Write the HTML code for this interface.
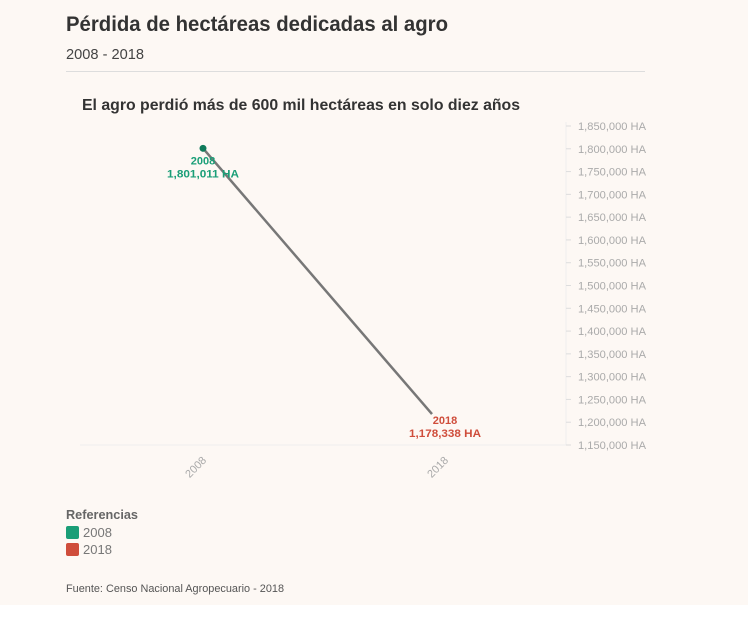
<!DOCTYPE html>
<html><head><meta charset="utf-8"><style>
html,body{margin:0;padding:0;background:#fff;}
svg{display:block;font-family:"Liberation Sans",sans-serif;}
</style></head><body>
<svg width="748" height="621" viewBox="0 0 748 621">
<rect x="0" y="0" width="748" height="605" fill="#fdf8f4"/>
<text x="66" y="31" font-size="21" font-weight="bold" fill="#333" textLength="382" lengthAdjust="spacingAndGlyphs">Pérdida de hectáreas dedicadas al agro</text>
<text x="66" y="59" font-size="15" fill="#444" textLength="78" lengthAdjust="spacingAndGlyphs">2008 - 2018</text>
<line x1="66" y1="71.5" x2="645" y2="71.5" stroke="#ddd" stroke-width="1"/>
<text x="82" y="110" font-size="16" font-weight="bold" fill="#333" textLength="438" lengthAdjust="spacingAndGlyphs">El agro perdió más de 600 mil hectáreas en solo diez años</text>
<g id="plot"></g>
<text x="66" y="519" font-size="13" font-weight="bold" fill="#666" textLength="72" lengthAdjust="spacingAndGlyphs">Referencias</text>
<rect x="66" y="526" width="13" height="13" rx="2" fill="#1a9e77"/>
<text x="83" y="537" font-size="13" fill="#777">2008</text>
<rect x="66" y="543" width="13" height="13" rx="2" fill="#cf4d3b"/>
<text x="83" y="554" font-size="13" fill="#777">2018</text>
<text x="66" y="592" font-size="11" fill="#555" textLength="218" lengthAdjust="spacingAndGlyphs">Fuente: Censo Nacional Agropecuario - 2018</text>
</svg>
<script>
const categories = ["2008", "2018"];
const values = [1801011, 1178338];
const labels = ["1,801,011 HA", "1,178,338 HA"];
const yTicks = [1150000,1200000,1250000,1300000,1350000,1400000,1450000,1500000,1550000,1600000,1650000,1700000,1750000,1800000,1850000];
const colors = ["#1a9e77", "#cf4d3b"];

const NS = "http://www.w3.org/2000/svg";
const g = document.getElementById("plot");
const yMin = 1150000, yMax = 1850000, yTop = 126, yBot = 445;
function y(v){ return yBot - (v - yMin) / (yMax - yMin) * (yBot - yTop); }
function x(i){ return 203 + i * (445 - 203); }
function mk(tag, attrs){ const e = document.createElementNS(NS, tag); for (const k in attrs) e.setAttribute(k, attrs[k]); g.appendChild(e); return e; }
function fmt(v){ return v.toLocaleString("en-US") + " HA"; }

const base = mk("line", {x1: 80, y1: yBot, x2: 566, y2: yBot, stroke: "#eee", "stroke-width": 1});


const rAxis = mk("line", {x1: 566, y1: yTop - 4, x2: 566, y2: yBot, stroke: "#eee", "stroke-width": 1});



yTicks.forEach(t => {
  const tk = mk("line", {x1: 566, y1: y(t), x2: 571, y2: y(t), stroke: "#ddd"});
  
  
  const tx = mk("text", {x: 578, y: y(t) + 4, "font-size": 11, fill: "#aaa", textLength: 68, lengthAdjust: "spacingAndGlyphs"});
  tx.textContent = fmt(t);
  
  
});

categories.forEach((c, i) => {
  const t = mk("text", {x: x(i) + 4, y: yBot + 16, "font-size": 11, fill: "#aaa", "text-anchor": "end", transform: `rotate(-45 ${x(i) + 4} ${yBot + 16})`});
  t.textContent = c;
  
  
});

const ln = mk("line", {x1: x(0), y1: y(values[0]), x2: x(1) - 13, y2: y(values[1]) - 18, stroke: "#777", "stroke-width": 2.5});


const dot = mk("circle", {cx: x(0), cy: y(values[0]), r: 3.5, fill: "#0f7a5a"});



categories.forEach((c, i) => {
  const py = y(values[i]);
  const cx = i === 0 ? x(0) : x(1);
  const oy = i === 0 ? 16 : -8;
  const a = mk("text", {x: cx, y: py + oy, "font-size": 11, "font-weight": "bold", fill: colors[i], "text-anchor": "middle"});
  a.textContent = c;
  
  
  const b = mk("text", {x: cx, y: py + oy + 13, "font-size": 11, "font-weight": "bold", fill: colors[i], "text-anchor": "middle", textLength: 72, lengthAdjust: "spacingAndGlyphs"});
  b.textContent = labels[i];
  
  
});
</script>
</body></html>
